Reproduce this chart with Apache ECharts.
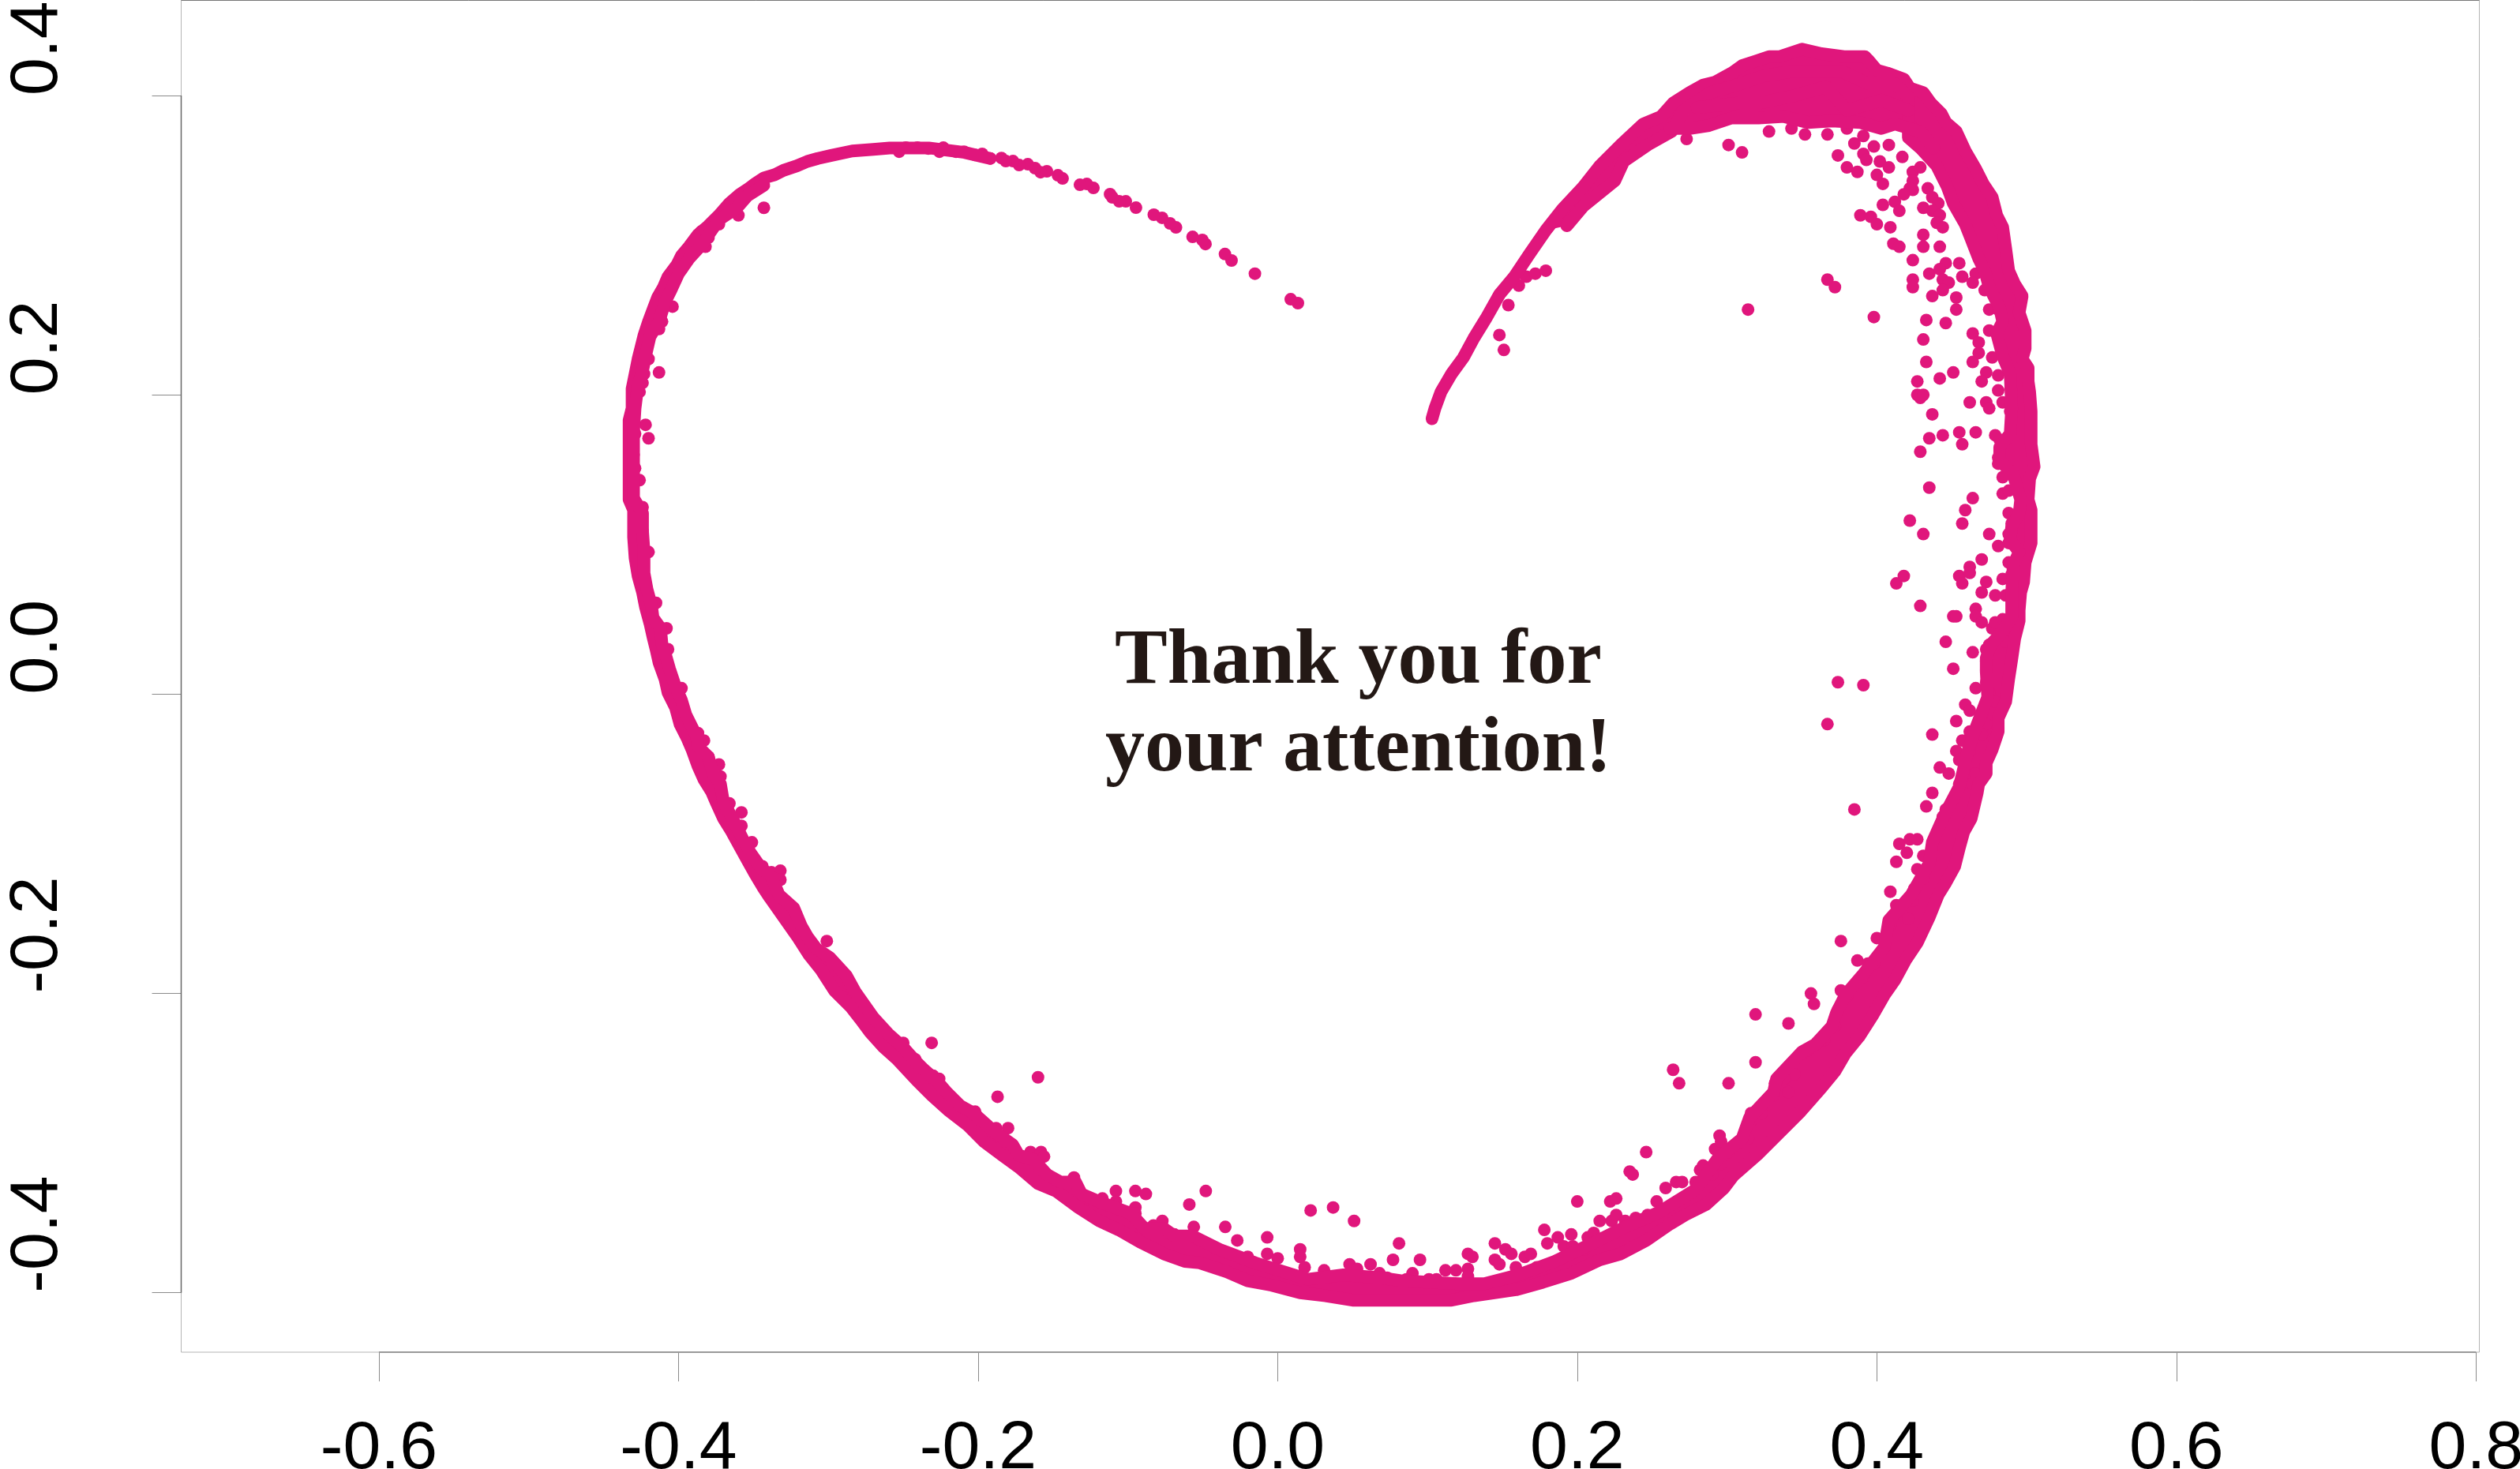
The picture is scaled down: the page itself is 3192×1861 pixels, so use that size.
<!DOCTYPE html>
<html><head><meta charset="utf-8">
<style>html,body{margin:0;padding:0;background:#fff}#c{width:3192px;height:1861px}</style>
<script src="https://cdn.jsdelivr.net/npm/echarts@6/dist/echarts.min.js"></script>
</head><body><div id="c"></div>
<script>
const xTicks=[-0.6,-0.4,-0.2,0,0.2,0.4,0.6,0.8];
const yTicks=[-0.4,-0.2,0,0.2,0.4];
const noteLines=["Thank you for","your attention!"];
const outerEdge=[[-0.192,0.358],[-0.209,0.362],[-0.233,0.365],[-0.259,0.365],[-0.270,0.364],[-0.284,0.363],[-0.298,0.360],[-0.307,0.358],[-0.314,0.356],[-0.321,0.353],[-0.330,0.350],[-0.336,0.347],[-0.343,0.345],[-0.349,0.341],[-0.353,0.338],[-0.359,0.334],[-0.366,0.328],[-0.373,0.320],[-0.380,0.313],[-0.387,0.307],[-0.393,0.299],[-0.398,0.293],[-0.401,0.287],[-0.407,0.279],[-0.410,0.272],[-0.414,0.265],[-0.417,0.257],[-0.420,0.249],[-0.423,0.240],[-0.425,0.232],[-0.427,0.224],[-0.429,0.214],[-0.431,0.204],[-0.431,0.191],[-0.433,0.183],[-0.433,0.170],[-0.433,0.156],[-0.433,0.142],[-0.433,0.130],[-0.430,0.123],[-0.430,0.105],[-0.429,0.091],[-0.427,0.079],[-0.424,0.068],[-0.422,0.058],[-0.419,0.047],[-0.417,0.038],[-0.415,0.030],[-0.413,0.021],[-0.409,0.010],[-0.407,0.001],[-0.402,-0.009],[-0.399,-0.020],[-0.394,-0.030],[-0.391,-0.037],[-0.387,-0.048],[-0.383,-0.057],[-0.378,-0.065],[-0.375,-0.072],[-0.370,-0.083],[-0.365,-0.091],[-0.359,-0.102],[-0.354,-0.111],[-0.349,-0.120],[-0.343,-0.130],[-0.339,-0.136],[-0.320,-0.163],[-0.313,-0.174],[-0.305,-0.184],[-0.296,-0.198],[-0.285,-0.209],[-0.278,-0.218],[-0.272,-0.226],[-0.263,-0.236],[-0.254,-0.244],[-0.241,-0.258],[-0.231,-0.268],[-0.220,-0.278],[-0.207,-0.288],[-0.196,-0.299],[-0.184,-0.308],[-0.173,-0.316],[-0.160,-0.327],[-0.148,-0.332],[-0.133,-0.343],[-0.119,-0.352],[-0.106,-0.358],[-0.092,-0.366],[-0.076,-0.374],[-0.062,-0.379],[-0.052,-0.380],[-0.034,-0.386],[-0.020,-0.392],[-0.004,-0.395],[0.015,-0.400],[0.032,-0.402],[0.050,-0.405],[0.083,-0.405],[0.116,-0.405],[0.131,-0.402],[0.159,-0.398],[0.177,-0.393],[0.196,-0.387],[0.215,-0.378],[0.229,-0.374],[0.246,-0.365],[0.262,-0.354],[0.272,-0.348],[0.286,-0.341],[0.298,-0.330],[0.304,-0.322],[0.321,-0.307],[0.337,-0.291],[0.349,-0.279],[0.363,-0.263],[0.372,-0.252],[0.379,-0.240],[0.388,-0.229],[0.397,-0.215],[0.405,-0.201],[0.412,-0.191],[0.419,-0.178],[0.427,-0.166],[0.435,-0.149],[0.441,-0.134],[0.446,-0.126],[0.452,-0.115],[0.455,-0.103],[0.458,-0.092],[0.463,-0.083],[0.467,-0.066],[0.468,-0.060],[0.473,-0.053],[0.473,-0.046],[0.477,-0.037],[0.481,-0.025],[0.481,-0.016],[0.486,-0.005],[0.488,0.010],[0.490,0.023],[0.492,0.037],[0.495,0.049],[0.495,0.056],[0.496,0.068],[0.498,0.075],[0.499,0.088],[0.503,0.101],[0.503,0.107],[0.503,0.123],[0.501,0.130],[0.502,0.144],[0.505,0.152],[0.503,0.167],[0.503,0.174],[0.503,0.189],[0.502,0.202],[0.501,0.209],[0.501,0.218],[0.497,0.224],[0.499,0.231],[0.499,0.243],[0.495,0.255],[0.497,0.266],[0.492,0.274],[0.488,0.283],[0.486,0.298],[0.484,0.312],[0.480,0.320],[0.477,0.332],[0.471,0.341],[0.466,0.351],[0.459,0.363],[0.453,0.376],[0.446,0.382],[0.443,0.388],[0.436,0.395],[0.431,0.402],[0.422,0.405],[0.418,0.411],[0.407,0.415],[0.400,0.417],[0.394,0.424],[0.392,0.426],[0.378,0.426],[0.363,0.428],[0.350,0.431],[0.335,0.426],[0.328,0.426],[0.319,0.423],[0.310,0.420],[0.303,0.415],[0.292,0.409],[0.284,0.407],[0.275,0.402],[0.264,0.395],[0.256,0.386],[0.244,0.381],[0.229,0.367],[0.215,0.353],[0.204,0.339],[0.190,0.324],[0.179,0.310],[0.168,0.294],[0.158,0.279],[0.148,0.267],[0.139,0.251],[0.131,0.238],[0.124,0.225],[0.116,0.214],[0.109,0.202],[0.105,0.191],[0.103,0.184]];
const innerEdge=[[-0.343,0.340],[-0.354,0.333],[-0.361,0.325],[-0.373,0.317],[-0.380,0.307],[-0.383,0.302],[-0.393,0.291],[-0.400,0.281],[-0.405,0.270],[-0.409,0.262],[-0.413,0.249],[-0.419,0.239],[-0.422,0.226],[-0.424,0.216],[-0.427,0.207],[-0.429,0.191],[-0.430,0.175],[-0.430,0.161],[-0.430,0.147],[-0.430,0.131],[-0.424,0.121],[-0.424,0.109],[-0.423,0.095],[-0.423,0.081],[-0.421,0.070],[-0.418,0.059],[-0.417,0.051],[-0.412,0.044],[-0.411,0.033],[-0.408,0.024],[-0.406,0.017],[-0.402,0.005],[-0.398,-0.004],[-0.395,-0.014],[-0.388,-0.028],[-0.387,-0.035],[-0.380,-0.042],[-0.377,-0.053],[-0.372,-0.060],[-0.370,-0.072],[-0.363,-0.085],[-0.357,-0.097],[-0.352,-0.106],[-0.345,-0.116],[-0.338,-0.122],[-0.333,-0.134],[-0.323,-0.143],[-0.318,-0.155],[-0.314,-0.162],[-0.308,-0.170],[-0.299,-0.176],[-0.288,-0.188],[-0.282,-0.199],[-0.270,-0.216],[-0.260,-0.227],[-0.250,-0.236],[-0.242,-0.245],[-0.237,-0.250],[-0.227,-0.259],[-0.221,-0.266],[-0.212,-0.275],[-0.203,-0.280],[-0.193,-0.289],[-0.187,-0.294],[-0.177,-0.301],[-0.173,-0.308],[-0.163,-0.311],[-0.154,-0.321],[-0.145,-0.326],[-0.135,-0.326],[-0.131,-0.334],[-0.117,-0.340],[-0.098,-0.347],[-0.089,-0.357],[-0.076,-0.357],[-0.069,-0.362],[-0.057,-0.362],[-0.039,-0.371],[-0.015,-0.380],[0.004,-0.386],[0.020,-0.391],[0.044,-0.388],[0.069,-0.390],[0.083,-0.392],[0.102,-0.393],[0.121,-0.394],[0.138,-0.394],[0.161,-0.388],[0.185,-0.379],[0.208,-0.368],[0.232,-0.356],[0.255,-0.346],[0.279,-0.331],[0.294,-0.310],[0.310,-0.297],[0.315,-0.283],[0.331,-0.266],[0.333,-0.257],[0.350,-0.239],[0.359,-0.234],[0.370,-0.222],[0.373,-0.213],[0.379,-0.201],[0.391,-0.187],[0.405,-0.169],[0.408,-0.151],[0.423,-0.134],[0.435,-0.113],[0.437,-0.099],[0.445,-0.081],[0.455,-0.062],[0.461,-0.037],[0.467,-0.020],[0.474,-0.002],[0.473,0.015],[0.473,0.024],[0.476,0.033],[0.484,0.042],[0.490,0.051],[0.490,0.068],[0.491,0.086],[0.495,0.095],[0.489,0.103],[0.490,0.112],[0.495,0.121],[0.496,0.130],[0.491,0.147],[0.482,0.156],[0.482,0.165],[0.489,0.174],[0.490,0.191],[0.489,0.214],[0.484,0.226],[0.480,0.241],[0.484,0.249],[0.482,0.258],[0.475,0.272],[0.472,0.283],[0.468,0.291],[0.463,0.304],[0.459,0.314],[0.451,0.328],[0.447,0.339],[0.440,0.353],[0.429,0.365],[0.421,0.372],[0.421,0.399],[0.412,0.408],[0.394,0.408],[0.377,0.416],[0.359,0.416],[0.342,0.416],[0.324,0.413],[0.306,0.407],[0.289,0.402],[0.271,0.390],[0.263,0.376],[0.247,0.367],[0.231,0.356],[0.225,0.343],[0.204,0.326],[0.193,0.313]];
const crownLower=[[0.262,0.378],[0.275,0.378],[0.288,0.380],[0.303,0.385],[0.321,0.385],[0.338,0.386],[0.354,0.382],[0.370,0.383],[0.389,0.382],[0.403,0.378],[0.412,0.381],[0.429,0.376],[0.438,0.365]];
const crownMiddle=[[0.280,0.392],[0.308,0.395],[0.322,0.395],[0.345,0.400],[0.366,0.406],[0.380,0.390],[0.403,0.397],[0.421,0.390]];
const tailPoints=[[0.0135,0.2613],[0.0087,0.2639],[-0.0152,0.2810],[-0.0308,0.2898],[-0.0352,0.2941],[-0.0482,0.3008],[-0.0503,0.3035],[-0.0568,0.3056],[-0.0679,0.3119],[-0.0719,0.3146],[-0.0772,0.3183],[-0.0827,0.3204],[-0.0946,0.3251],[-0.1014,0.3293],[-0.1058,0.3293],[-0.1104,0.3320],[-0.1119,0.3341],[-0.1230,0.3383],[-0.1274,0.3409],[-0.1320,0.3404],[-0.1436,0.3446],[-0.1467,0.3467],[-0.1541,0.3494],[-0.1583,0.3488],[-0.1620,0.3515],[-0.1668,0.3541],[-0.1726,0.3536],[-0.1767,0.3562],[-0.1815,0.3562],[-0.1844,0.3583],[-0.1918,0.3580],[-0.1973,0.3610],[-0.2021,0.3604],[-0.2094,0.3625],[-0.2147,0.3625],[-0.2232,0.3652],[-0.2258,0.3625],[-0.2332,0.3646],[-0.2405,0.3652],[-0.2482,0.3652],[-0.2527,0.3625]];
const leftPoints=[[-0.343,0.325],[-0.360,0.320],[-0.366,0.323],[-0.373,0.314],[-0.380,0.305],[-0.382,0.299],[-0.385,0.309],[-0.394,0.290],[-0.398,0.284],[-0.405,0.276],[-0.407,0.267],[-0.404,0.259],[-0.410,0.260],[-0.411,0.249],[-0.415,0.249],[-0.413,0.244],[-0.420,0.224],[-0.413,0.215],[-0.423,0.214],[-0.424,0.208],[-0.426,0.202],[-0.422,0.180],[-0.420,0.171],[-0.429,0.174],[-0.430,0.160],[-0.429,0.151],[-0.426,0.143],[-0.424,0.125],[-0.424,0.109],[-0.420,0.095],[-0.415,0.061],[-0.408,0.044],[-0.407,0.030],[-0.398,0.004],[-0.387,-0.026],[-0.383,-0.031],[-0.380,-0.042],[-0.373,-0.047],[-0.372,-0.055],[-0.366,-0.073],[-0.358,-0.079],[-0.358,-0.088],[-0.351,-0.099],[-0.344,-0.115],[-0.338,-0.119],[-0.332,-0.118],[-0.332,-0.124]];
const bottomPoints=[[-0.301,-0.165],[-0.284,-0.197],[-0.250,-0.233],[-0.242,-0.244],[-0.226,-0.257],[-0.230,-0.255],[-0.231,-0.233],[-0.202,-0.279],[-0.188,-0.290],[-0.180,-0.290],[-0.165,-0.306],[-0.158,-0.306],[-0.156,-0.309],[-0.154,-0.321],[-0.136,-0.323],[-0.117,-0.337],[-0.108,-0.332],[-0.108,-0.339],[-0.095,-0.332],[-0.088,-0.334],[-0.095,-0.343],[-0.095,-0.347],[-0.083,-0.355],[-0.077,-0.352],[-0.069,-0.361],[-0.059,-0.341],[-0.056,-0.356],[-0.187,-0.269],[-0.160,-0.256],[-0.048,-0.332],[-0.035,-0.356],[-0.027,-0.365],[-0.007,-0.363],[-0.007,-0.374],[0,-0.377],[-0.020,-0.376],[0.015,-0.371],[0.015,-0.376],[0.018,-0.383],[0.022,-0.345],[0.037,-0.343],[0.051,-0.352],[0.031,-0.385],[0.038,-0.389],[0.048,-0.381],[0.053,-0.384],[0.062,-0.381],[0.068,-0.387],[0.073,-0.390],[0.081,-0.367],[0.077,-0.378],[0.095,-0.378],[0.090,-0.387],[0.086,-0.391],[0.112,-0.385],[0.119,-0.385],[0.101,-0.391],[0.106,-0.391],[0.127,-0.374],[0.130,-0.376],[0.127,-0.384],[0.127,-0.389],[0.145,-0.367],[0.152,-0.371],[0.156,-0.374],[0.145,-0.378],[0.148,-0.381],[0.159,-0.383],[0.165,-0.376],[0.169,-0.374],[0.173,-0.383],[0.178,-0.358],[0.180,-0.367],[0.187,-0.363],[0.196,-0.361],[0.191,-0.369],[0.197,-0.369],[0.205,-0.371],[0.200,-0.339],[0.207,-0.363],[0.211,-0.360],[0.215,-0.352],[0.222,-0.339],[0.226,-0.337],[0.223,-0.352],[0.226,-0.348],[0.232,-0.352],[0.235,-0.319],[0.237,-0.321],[0.246,-0.306],[0.239,-0.350],[0.247,-0.348],[0.253,-0.339],[0.259,-0.330],[0.266,-0.326],[0.270,-0.326],[0.279,-0.326],[0.282,-0.318],[0.284,-0.315],[0.290,-0.321],[0.292,-0.304],[0.295,-0.295],[0.301,-0.306],[0.296,-0.299],[0.264,-0.251],[0.268,-0.260],[0.301,-0.260]];
const lowerRightPoints=[[0.385,-0.077],[0.437,-0.066],[0.433,-0.075],[0.446,-0.077],[0.444,-0.082],[0.415,-0.100],[0.422,-0.097],[0.427,-0.097],[0.420,-0.106],[0.431,-0.108],[0.413,-0.112],[0.427,-0.117],[0.431,-0.123],[0.425,-0.130],[0.409,-0.132],[0.413,-0.141],[0.424,-0.138],[0.413,-0.146],[0.409,-0.154],[0.421,-0.150],[0.400,-0.163],[0.405,-0.169],[0.376,-0.165],[0.387,-0.178],[0.394,-0.180],[0.398,-0.180],[0.391,-0.189],[0.376,-0.198],[0.380,-0.202],[0.356,-0.200],[0.358,-0.207],[0.374,-0.211],[0.372,-0.222],[0.319,-0.214],[0.341,-0.220],[0.365,-0.231],[0.360,-0.233],[0.354,-0.238],[0.350,-0.240],[0.319,-0.246],[0.345,-0.254],[0.338,-0.257],[0.332,-0.260],[0.331,-0.268],[0.341,-0.266],[0.316,-0.280],[0.323,-0.280],[0.316,-0.285],[0.314,-0.297],[0.296,-0.314]];
const rightPoints=[[0.484,0.145],[0.484,0.134],[0.488,0.136],[0.488,0.121],[0.490,0.114],[0.488,0.107],[0.488,0.101],[0.481,0.099],[0.482,0.170],[0.481,0.158],[0.481,0.154],[0.489,0.189],[0.488,0.088],[0.484,0.077],[0.490,0.080],[0.486,0.066],[0.491,0.061],[0.479,0.066],[0.473,0.075],[0.470,0.068],[0.470,0.090],[0.475,0.107],[0.462,0.085],[0.455,0.079],[0.462,0.081],[0.457,0.074],[0.466,0.057],[0.466,0.052],[0.470,0.048],[0.477,0.044],[0.479,0.048],[0.484,0.050],[0.486,0.042],[0.486,0.035],[0.475,0.033],[0.473,0.030],[0.473,0.022],[0.473,0.016],[0.473,0.008],[0.475,0.001],[0.466,0.004],[0.479,-0.005],[0.459,-0.007],[0.462,-0.011],[0.470,-0.014],[0.453,-0.018],[0.473,-0.020],[0.462,-0.025],[0.470,-0.027],[0.437,-0.027],[0.457,-0.031],[0.453,-0.038],[0.462,-0.038],[0.455,-0.044],[0.442,-0.049],[0.448,-0.053],[0.457,-0.057],[0.455,-0.060],[0.466,-0.053],[0.464,-0.060],[0.429,0.162],[0.435,0.171],[0.444,0.173],[0.455,0.175],[0.457,0.167],[0.466,0.175],[0.479,0.173],[0.435,0.138],[0.464,0.131],[0.459,0.123],[0.457,0.114],[0.422,0.116],[0.431,0.107],[0.418,0.079],[0.413,0.074],[0.429,0.059],[0.451,0.052],[0.453,0.052],[0.446,0.035],[0.464,0.028],[0.451,0.017],[0.374,0.008],[0.391,0.006],[0.367,-0.020],[0.437,0.187],[0.462,0.195],[0.473,0.195],[0.475,0.191],[0.484,0.195],[0.429,0.198]];
const upperRightPoints=[[0.374,0.360],[0.391,0.361],[0.393,0.357],[0.380,0.352],[0.387,0.349],[0.402,0.356],[0.408,0.352],[0.417,0.359],[0.400,0.347],[0.404,0.341],[0.424,0.349],[0.429,0.352],[0.424,0.343],[0.424,0.337],[0.434,0.338],[0.437,0.332],[0.441,0.328],[0.431,0.325],[0.437,0.323],[0.442,0.320],[0.440,0.315],[0.444,0.312],[0.422,0.338],[0.418,0.334],[0.412,0.329],[0.404,0.327],[0.415,0.323],[0.389,0.320],[0.396,0.319],[0.400,0.314],[0.409,0.312],[0.431,0.307],[0.431,0.299],[0.442,0.299],[0.411,0.301],[0.415,0.299],[0.424,0.290],[0.446,0.288],[0.455,0.288],[0.435,0.281],[0.442,0.284],[0.457,0.279],[0.466,0.281],[0.444,0.277],[0.448,0.275],[0.464,0.275],[0.472,0.270],[0.424,0.277],[0.424,0.272],[0.444,0.270],[0.437,0.266],[0.453,0.265],[0.453,0.257],[0.475,0.257],[0.481,0.257],[0.433,0.250],[0.446,0.248],[0.431,0.237],[0.464,0.241],[0.475,0.243],[0.468,0.235],[0.468,0.228],[0.464,0.222],[0.477,0.225],[0.433,0.222],[0.451,0.215],[0.442,0.211],[0.427,0.209],[0.473,0.215],[0.470,0.209],[0.481,0.213],[0.427,0.200],[0.431,0.200],[0.481,0.203],[0.367,0.277],[0.372,0.272],[0.314,0.257],[0.398,0.252],[0.301,0.367],[0.310,0.362],[0.328,0.376],[0.273,0.371],[0.343,0.378],[0.352,0.374],[0.367,0.374],[0.380,0.378],[0.385,0.368],[0.391,0.373],[0.398,0.366],[0.408,0.367],[0.148,0.240],[0.151,0.230],[0.154,0.260],[0.161,0.273],[0.166,0.279],[0.172,0.281],[0.179,0.283]];

const PINK='#e0167c';
const xMin=-0.732,xMax=0.8022,yMin=-0.4397,yMax=0.4636;
const band=(name,data)=>({name,type:'line',data,showSymbol:false,symbol:'none',silent:true,animation:false,
  lineStyle:{color:PINK,width:16,cap:'round',join:'round'}});
const dots=(name,data)=>({name,type:'scatter',data,symbol:'circle',symbolSize:16,silent:true,animation:false,large:false,
  itemStyle:{color:PINK,opacity:1}});
// filled regions between the read edges of the solid band
const at=(arr,p)=>arr.findIndex(q=>q[0]===p[0]&&q[1]===p[1]);
const regions=[
  outerEdge.slice(at(outerEdge,[-0.343,0.345]),at(outerEdge,[0.179,0.310])+1).concat(innerEdge.slice().reverse()),
  innerEdge.slice(at(innerEdge,[0.421,0.399]),at(innerEdge,[0.271,0.390])+1).concat(crownMiddle),
  crownMiddle.concat(crownLower.slice().reverse())
];
const chart=echarts.init(document.getElementById('c'),null,{renderer:'canvas',width:3192,height:1861,devicePixelRatio:1});
const labelFont={fontFamily:'"Liberation Sans",Arial,sans-serif',fontSize:86,color:'#000'};
chart.setOption({
  animation:false,backgroundColor:'#fff',
  grid:{show:true,left:229.5,top:0.5,width:2911,height:1712.5,borderColor:'#b4b4b4',borderWidth:1,backgroundColor:'#fff',containLabel:false,outerBoundsMode:'none'},
  xAxis:{type:'value',min:xMin,max:xMax,splitLine:{show:false},axisLine:{show:false,onZero:false},
    axisTick:{show:true,length:37,customValues:xTicks,lineStyle:{color:'#8a8a8a',width:1}},
    axisLabel:{...labelFont,margin:80,customValues:xTicks,hideOverlap:false,showMinLabel:true,showMaxLabel:true,formatter:v=>v.toFixed(1)}},
  yAxis:{type:'value',min:yMin,max:yMax,splitLine:{show:false},axisLine:{show:false,onZero:false},
    axisTick:{show:true,length:37,customValues:yTicks,lineStyle:{color:'#8a8a8a',width:1}},
    axisLabel:{...labelFont,rotate:90,align:'left',verticalAlign:'bottom',margin:138,customValues:yTicks,hideOverlap:false,showMinLabel:true,showMaxLabel:true,formatter:v=>v.toFixed(1)}},
  series:[
    {type:'line',name:'x axis line',data:[[xTicks[0],yMin],[xTicks[7],yMin]],symbol:'none',clip:false,silent:true,lineStyle:{color:'#999',width:2}},
    {type:'line',name:'y axis line',data:[[xMin,yTicks[0]],[xMin,yTicks[4]]],symbol:'none',clip:false,silent:true,lineStyle:{color:'#666',width:1.5}},
    {type:'line',name:'box top',data:[[xMin,yMax],[xMax,yMax]],symbol:'none',clip:false,silent:true,lineStyle:{color:'#777',width:1}},
    {type:'custom',name:'band fill',coordinateSystem:'cartesian2d',silent:true,animation:false,data:regions.map((r,i)=>[i]),encode:{x:0},
      renderItem:(params,api)=>({type:'polygon',shape:{points:regions[api.value(0)].map(p=>api.coord(p))},style:{fill:PINK}})},
    band('outer edge',outerEdge),band('inner edge',innerEdge),band('crown lower',crownLower),band('crown middle',crownMiddle),
    dots('tail',tailPoints),dots('left',leftPoints),dots('bottom',bottomPoints),dots('lower right',lowerRightPoints),dots('right',rightPoints),dots('upper right',upperRightPoints)
  ],
  graphic:[
    {type:'text',left:1412,top:789,z:100,style:{text:noteLines[0],font:'bold 100px "Liberation Serif","Times New Roman",serif',fill:'#231815'}},
    {type:'text',left:1400,top:900,z:100,style:{text:noteLines[1],font:'bold 100px "Liberation Serif","Times New Roman",serif',fill:'#231815'}}
  ]
});
</script></body></html>
